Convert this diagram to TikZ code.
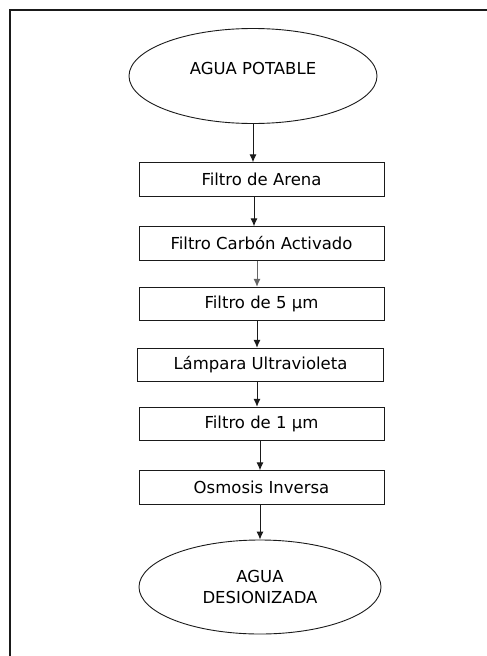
\documentclass[tikz,border=0pt]{standalone}
\usepackage{fontspec}
\setmainfont{DejaVu Sans}
\usepackage{tikz}
\usetikzlibrary{arrows.meta}
\tikzset{>={Latex[length=8pt, width=7pt]}}
\usetikzlibrary{shapes.geometric}
\definecolor{linea}{HTML}{1A1A1A}
\tikzset{
    paso/.style={draw=linea, line width=0.9pt, minimum width=245pt, minimum height=33.5pt, inner sep=0pt, font=\fontsize{16.5}{21}\selectfont},
    extremo/.style={ellipse, draw=linea, line width=0.9pt, inner sep=0pt, align=center, font=\fontsize{16.5}{21}\selectfont},
    flecha/.style={->, line width=1pt, linea}
}

\begin{document}
\begin{tikzpicture}[x=1pt, y=-1pt]
                \useasboundingbox (0, 0) rectangle (487, 656);
                \draw[line width=2pt, linea] (489, 9.5) -- (9.5, 9.5) -- (9.5, 658);
                \node[extremo, minimum width=248pt, minimum height=95pt, text depth=16pt] (potable) at (253, 76) {AGUA POTABLE};
                \node[paso] (arena) at (261.5, 179.5) {Filtro de Arena};
                \node[paso] (carbon) at (261.5, 243.5) {Filtro Carbón Activado};
                \node[paso] (cinco) at (261.5, 304) {Filtro de 5 µm};
                \node[paso, minimum width=246pt] (lampara) at (260.5, 365) {Lámpara Ultravioleta};
                \node[paso] (uno) at (261.5, 424) {Filtro de 1 µm};
                \node[paso] (osmosis) at (261.5, 487.5) {Osmosis Inversa};
                \node[extremo, minimum width=242pt, minimum height=94pt] (desionizada) at (260, 587) {AGUA\\DESIONIZADA};
                \draw[flecha] (potable.south) -- (potable.south |- arena.north);
                \draw[flecha] (254,0 |- arena.south) -- (254,0 |- carbon.north);
                \draw[flecha, black!60] (257,0 |- carbon.south) -- (257,0 |- cinco.north);
                \draw[flecha] (257,0 |- cinco.south) -- (257,0 |- lampara.north);
                \draw[flecha] (257,0 |- lampara.south) -- (257,0 |- uno.north);
                \draw[flecha] (260,0 |- uno.south) -- (260,0 |- osmosis.north);
                \draw[flecha] (260,0 |- osmosis.south) -- (desionizada.north);
            \end{tikzpicture}
\end{document}
